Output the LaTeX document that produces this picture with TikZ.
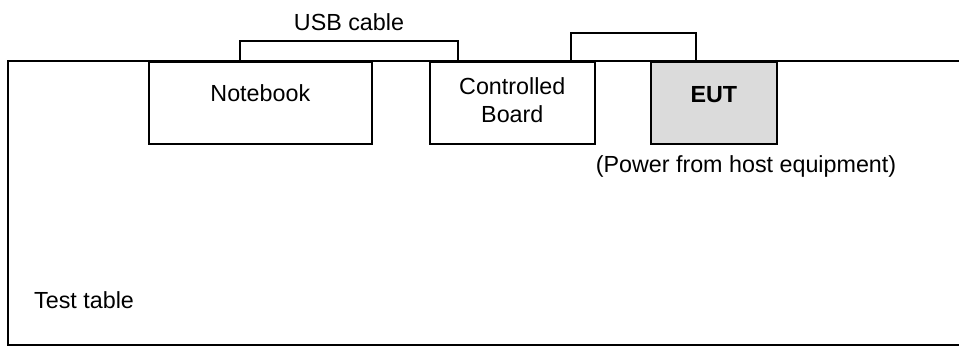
\documentclass[tikz,border=0pt]{standalone}
\usepackage{fontspec}
\setmainfont{Liberation Sans}
\usetikzlibrary{calc}
\begin{document}
\begin{tikzpicture}[x=1pt,y=-1pt,
  box/.style={draw,line width=1.6pt,rectangle,inner sep=0pt,anchor=north west},
  lbl/.style={font=\fontsize{23.3}{28}\selectfont,inner sep=0pt,align=center},
  wire/.style={line width=1.6pt}]
\useasboundingbox (0,0) rectangle (959,347);
% test table
\coordinate (tl) at (8,61);
\coordinate (tr) at (959,61);
\coordinate (bl) at (8,345);
\coordinate (br) at (959,345);
\draw[line width=1.6pt] (tr) -- (tl) -- (bl) -- (br);
% boxes
\node[box,fill=white,minimum width=223pt,minimum height=82pt] (nb) at (148,61) {};
\node[box,fill=white,minimum width=165pt,minimum height=82pt] (cb) at (429,61) {};
\node[box,fill=black!14,minimum width=126pt,minimum height=82pt] (eut) at (650,61) {};
% labels
\node[lbl] (nbt) at ($(nb.north)+(0,32)$) {Notebook};
\node[lbl] (cbt) at ($(cb.north)+(0,39)$) {Controlled\\Board};
\node[lbl,font=\fontsize{23.3}{28}\selectfont\bfseries] (eutt) at ($(eut.north)+(0,34)$) {EUT};
\node[lbl] (pwr) at (746,166) {(Power from host equipment)};
\node[lbl,anchor=west] (tt) at (34,300) {Test table};
% cables
\coordinate (c1a) at ($(nb.north west)+(92,0)$);
\coordinate (c1b) at ($(cb.north west)+(29,0)$);
\draw[wire] (c1a) -- ++(0,-20) -| (c1b);
\node[lbl] (usb) at ($(c1a)!0.5!(c1b)+(0,-39)$) {USB cable};
\coordinate (c2a) at ($(cb.north west)+(142,0)$);
\coordinate (c2b) at ($(eut.north west)+(46,0)$);
\draw[wire] (c2a) -- ++(0,-28) -| (c2b);
\end{tikzpicture}
\end{document}
